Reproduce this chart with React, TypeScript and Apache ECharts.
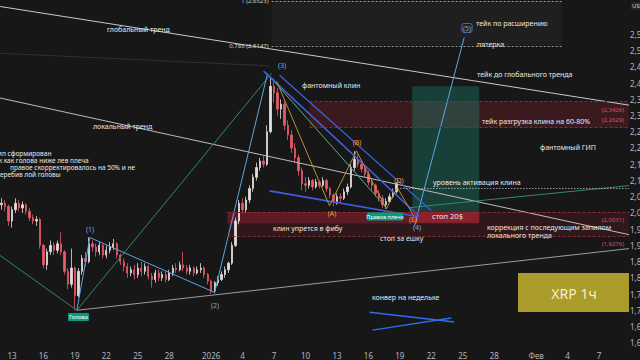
import React, { useEffect, useRef } from "react";
import * as echarts from "echarts";

// ---- axes ----
const xTickDays = [12, 15, 18, 21, 24, 27, 31, 34, 37, 40, 43, 46, 49, 52, 55, 58, 62, 65, 68];
const xTickLabels = ["13", "16", "19", "22", "25", "28", "2026", "4", "7", "10", "13", "16", "19", "22", "25", "28", "Фев", "4", "7"];
const yTickValues = [1.6, 1.65, 1.7, 1.75, 1.8, 1.85, 1.9, 1.95, 2.0, 2.05, 2.1, 2.15, 2.2, 2.25, 2.3, 2.35, 2.4, 2.45, 2.5, 2.55];

// ---- candles (8h), days counted from 1 Dec 2025 ----
const firstCandleDay = 11;
const candleStepDays = 1 / 3;
// [open, close, low, high]
const ohlc = [
  [2.025, 2.03, 2.01, 2.045], [2.03, 2.02, 2.005, 2.04], [2.02, 1.975, 1.96, 2.025], [1.975, 2.01, 1.955, 2.02],
  [2.01, 2.03, 2.0, 2.045], [2.03, 2.015, 2.005, 2.04], [2.015, 2.025, 2.0, 2.035], [2.025, 2.005, 1.995, 2.03],
  [2.005, 1.985, 1.975, 2.015], [1.985, 1.975, 1.965, 1.995], [1.975, 1.98, 1.96, 1.99], [1.98, 1.9, 1.89, 1.985],
  [1.9, 1.84, 1.83, 1.905], [1.84, 1.88, 1.825, 1.89], [1.88, 1.9, 1.87, 1.915], [1.9, 1.885, 1.87, 1.91],
  [1.885, 1.905, 1.875, 1.915], [1.905, 1.88, 1.87, 1.94], [1.88, 1.82, 1.81, 1.885], [1.82, 1.78, 1.765, 1.83],
  [1.78, 1.83, 1.77, 1.89], [1.83, 1.745, 1.7, 1.835], [1.745, 1.82, 1.74, 1.83], [1.82, 1.86, 1.81, 1.87],
  [1.86, 1.85, 1.835, 1.88], [1.85, 1.905, 1.845, 1.925], [1.905, 1.895, 1.88, 1.915], [1.895, 1.88, 1.865, 1.905],
  [1.88, 1.9, 1.87, 1.91], [1.9, 1.87, 1.86, 1.905], [1.87, 1.885, 1.86, 1.9], [1.885, 1.895, 1.875, 1.91],
  [1.895, 1.905, 1.885, 1.92], [1.905, 1.87, 1.86, 1.91], [1.87, 1.85, 1.84, 1.875], [1.85, 1.835, 1.82, 1.86],
  [1.835, 1.815, 1.8, 1.845], [1.815, 1.825, 1.805, 1.835], [1.825, 1.81, 1.795, 1.84], [1.81, 1.83, 1.8, 1.845],
  [1.83, 1.82, 1.805, 1.85], [1.82, 1.835, 1.81, 1.845], [1.835, 1.805, 1.795, 1.84], [1.805, 1.795, 1.77, 1.815],
  [1.795, 1.815, 1.785, 1.825], [1.815, 1.8, 1.79, 1.825], [1.8, 1.81, 1.79, 1.82], [1.81, 1.795, 1.785, 1.82],
  [1.795, 1.815, 1.79, 1.825], [1.815, 1.83, 1.805, 1.84], [1.83, 1.825, 1.815, 1.845], [1.825, 1.84, 1.82, 1.85],
  [1.84, 1.83, 1.82, 1.88], [1.83, 1.82, 1.81, 1.84], [1.82, 1.83, 1.81, 1.84], [1.83, 1.815, 1.805, 1.835],
  [1.815, 1.825, 1.81, 1.835], [1.825, 1.83, 1.815, 1.845], [1.83, 1.81, 1.8, 1.835], [1.81, 1.79, 1.78, 1.815],
  [1.79, 1.76, 1.75, 1.795], [1.76, 1.785, 1.752, 1.79], [1.785, 1.795, 1.775, 1.805], [1.795, 1.81, 1.79, 1.82],
  [1.81, 1.825, 1.8, 1.835], [1.825, 1.845, 1.815, 1.85], [1.845, 1.9, 1.84, 1.91], [1.9, 1.975, 1.895, 1.985],
  [1.975, 2.03, 1.965, 2.04], [2.03, 2.01, 2.0, 2.045], [2.01, 2.04, 2.0, 2.05], [2.04, 2.075, 2.03, 2.085],
  [2.075, 2.11, 2.065, 2.12], [2.11, 2.14, 2.1, 2.155], [2.14, 2.16, 2.13, 2.17], [2.16, 2.15, 2.14, 2.175],
  [2.15, 2.25, 2.145, 2.27], [2.25, 2.39, 2.245, 2.42], [2.39, 2.37, 2.34, 2.415], [2.37, 2.32, 2.3, 2.385],
  [2.32, 2.335, 2.29, 2.35], [2.335, 2.27, 2.255, 2.345], [2.27, 2.24, 2.225, 2.285], [2.24, 2.2, 2.185, 2.255],
  [2.2, 2.17, 2.155, 2.215], [2.17, 2.13, 2.115, 2.18], [2.13, 2.09, 2.07, 2.14], [2.09, 2.085, 2.065, 2.11],
  [2.085, 2.1, 2.075, 2.11], [2.1, 2.08, 2.07, 2.105], [2.08, 2.095, 2.075, 2.105], [2.095, 2.085, 2.075, 2.1],
  [2.085, 2.1, 2.08, 2.11], [2.1, 2.075, 2.065, 2.105], [2.075, 2.055, 2.045, 2.08], [2.055, 2.035, 2.02, 2.06],
  [2.035, 2.05, 2.025, 2.06], [2.05, 2.045, 2.03, 2.06], [2.045, 2.065, 2.04, 2.075], [2.065, 2.08, 2.055, 2.09],
  [2.08, 2.14, 2.075, 2.15], [2.14, 2.165, 2.13, 2.19], [2.165, 2.15, 2.14, 2.18], [2.15, 2.135, 2.125, 2.16],
  [2.135, 2.12, 2.11, 2.145], [2.12, 2.095, 2.085, 2.13], [2.095, 2.085, 2.07, 2.105], [2.085, 2.06, 2.05, 2.09],
  [2.06, 2.045, 2.035, 2.07], [2.045, 2.025, 2.015, 2.055], [2.025, 2.035, 2.013, 2.045], [2.035, 2.05, 2.03, 2.06],
  [2.05, 2.065, 2.045, 2.075], [2.065, 2.09, 2.06, 2.095],
];

// ---- drawings (day, price) ----
const globalTrend = [[10.86, 2.636], [70.86, 2.332]];
const localTrend = [[10.86, 2.354], [70.86, 1.933]];
const faintTop = [[10.86, 2.492], [36.57, 2.453]];
const impulseWaves = [[18.19, 1.7], [19.43, 1.924], [31.33, 1.755], [36.38, 2.43]];
const wave4to5 = [[50.38, 1.958], [55.14, 2.541]];
const headBaseline = [[18.19, 1.7], [70.86, 1.89]];
const greenIntoHead = [[10.86, 1.869], [18.19, 1.7]];
const greenHeadToTop = [[18.19, 1.7], [36.76, 2.43]];
const greenTopToC = [[36.57, 2.421], [47.71, 2.016]];
const tealRight = [[49.9, 2.016], [70.86, 2.084]];
const wedgeUpperA = [[36.0, 2.437], [50.86, 1.989]];
const wedgeUpperB = [[37.52, 2.424], [52.0, 2.007]];
const wedgeLower = [[36.57, 2.068], [50.67, 1.989]];
const abcdeWaves = [[37.24, 2.406], [42.29, 2.022], [44.86, 2.191], [47.71, 2.013], [48.76, 2.078], [50.29, 1.992]];
const weeklyUpper = [[46.1, 1.694], [54.19, 1.664]];
const weeklyLower = [[46.38, 1.639], [53.9, 1.676]];

const activationLevel = 2.075;
const activationStart = 48.76;
const fibLevels = [2.6523, 2.5147];
const fibNames = ["1", "0,786"];
const fibSpan = [36.76, 64.48];
const takeZone = [2.2629, 2.3426];
const takeStart = 40.38;
const stopZone = [1.9276, 2.0031];
const stopStart = 32.57;
const stopStripLow = 1.967;
const longSpan = [50.19, 56.57];
const longEntry = 2.007;
const longTarget = 2.39;
const longStop = 1.97;
const priceTags = [2.39, 2.09, 2.062, 2.007, 1.983];

const xMin = 10.857;
const xMax = 70.857;
const yMin = 1.593;
const yMax = 2.656;

const fmt = (v: number) => v.toFixed(4).replace(".", ",");
const FONT = "'Noto Sans', sans-serif";

const seg = (data: number[][], color: string, width = 1, type: any = "solid", z = 4) => ({
  type: "line",
  data,
  symbol: "none",
  silent: true,
  z,
  lineStyle: { color, width, type },
  emphasis: { disabled: true },
});

const txt = (x: number, y: number, text: string, extra: any = {}) => ({
  type: "text",
  x,
  y,
  silent: true,
  z: 50,
  style: {
    text,
    fill: "#e8e8e8",
    fontSize: 7,
    fontFamily: FONT,
    verticalAlign: "middle",
    align: "left",
    ...extra,
  },
});

export default function App() {
  const ref = useRef<HTMLDivElement>(null);

  useEffect(() => {
    document.body.style.margin = "0";
    const chart = echarts.init(ref.current!, undefined, { renderer: "svg" });

    const tagBg = ["#089981", "#f2f2f2", "#f23645", "#787b86", "#f23645"];
    const tagFg = ["#ffffff", "#111111", "#ffffff", "#ffffff", "#ffffff"];
    const redLbl = { color: "#d9525e", fontSize: 6, fontFamily: FONT };

    const option: any = {
      animation: false,
      backgroundColor: "#171717",
      grid: { left: 0, right: 11, top: 0, bottom: 15, containLabel: false, outerBoundsMode: "none" },
      xAxis: {
        type: "value",
        min: xMin,
        max: xMax,
        axisLine: { show: false },
        axisTick: { show: false },
        splitLine: { show: false },
        axisLabel: {
          customValues: xTickDays,
          formatter: (v: number) => {
            const i = xTickDays.indexOf(Math.round(v));
            return i >= 0 ? xTickLabels[i] : "";
          },
          color: "#b2b5be",
          fontSize: 8,
          fontFamily: FONT,
          margin: 6,
        },
      },
      yAxis: {
        type: "value",
        position: "right",
        min: yMin,
        max: yMax,
        axisLine: { show: false },
        axisTick: { show: false },
        splitLine: { show: false },
        axisLabel: {
          customValues: yTickValues,
          formatter: (v: number) => fmt(v),
          color: "#b2b5be",
          fontSize: 8,
          fontFamily: FONT,
          margin: 1,
        },
      },
      series: [
        // zones
        {
          type: "line",
          data: [],
          silent: true,
          z: 1,
          markArea: {
            silent: true,
            label: { show: false },
            data: [
              [{ coord: [fibSpan[0], fibLevels[1]], itemStyle: { color: "rgba(255,255,255,0.035)" } }, { coord: [fibSpan[1], fibLevels[0]] }],
              [{ coord: [takeStart, takeZone[0]], itemStyle: { color: "rgba(150,35,50,0.28)" } }, { coord: [xMax, takeZone[1]] }],
              [{ coord: [stopStart, stopZone[0]], itemStyle: { color: "rgba(130,30,45,0.22)" } }, { coord: [xMax, stopZone[1]] }],
              [{ coord: [stopStart, stopStripLow], itemStyle: { color: "rgba(150,30,50,0.45)" } }, { coord: [longSpan[1], stopZone[1]] }],
              [{ coord: [longSpan[0], longEntry], itemStyle: { color: "rgba(30,150,125,0.33)" } }, { coord: [longSpan[1], longTarget] }],
              [{ coord: [longSpan[0], longStop], itemStyle: { color: "rgba(242,54,69,0.3)" } }, { coord: [longSpan[1], longEntry] }],
            ],
          },
          markLine: {
            silent: true,
            symbol: "none",
            data: [
              ...fibLevels.map((v, i) => [
                {
                  coord: [fibSpan[0], v],
                  lineStyle: { color: "#9a9a9a", width: 1, type: [2, 2] },
                  label: {
                    show: true,
                    position: "start",
                    distance: 3,
                    formatter: `${fibNames[i]} (${fmt(v)})`,
                    color: "#d0d0d0",
                    fontSize: 6,
                    fontFamily: FONT,
                    padding: i === 0 ? [8, 0, 0, 0] : 0,
                  },
                },
                { coord: [fibSpan[1], v] },
              ]),
              [
                { coord: [takeStart, takeZone[1]], lineStyle: { color: "#8a2a36", width: 1, type: [3, 2] }, label: { show: true, position: "insideEndBottom", formatter: `(${fmt(takeZone[1])})`, ...redLbl } },
                { coord: [xMax, takeZone[1]] },
              ],
              [
                { coord: [takeStart, takeZone[0]], lineStyle: { color: "#8a2a36", width: 1, type: [3, 2] }, label: { show: true, position: "insideEndTop", formatter: `(${fmt(takeZone[0])})`, ...redLbl } },
                { coord: [xMax, takeZone[0]] },
              ],
              [
                { coord: [stopStart, stopZone[1]], lineStyle: { color: "#8a2a36", width: 1, type: [3, 2] }, label: { show: true, position: "insideEndBottom", formatter: `(${fmt(stopZone[1])})`, ...redLbl } },
                { coord: [xMax, stopZone[1]] },
              ],
              [
                { coord: [stopStart, stopZone[0]], lineStyle: { color: "#8a2a36", width: 1, type: [3, 2] }, label: { show: true, position: "insideEndBottom", formatter: `(${fmt(stopZone[0])})`, ...redLbl } },
                { coord: [xMax, stopZone[0]] },
              ],
              [
                { coord: [activationStart, activationLevel], lineStyle: { color: "#d8d8d8", width: 1, type: [1, 2] }, label: { show: false } },
                { coord: [xMax, activationLevel] },
              ],
            ],
          },
        },
        // candles
        {
          type: "candlestick",
          z: 3,
          barWidth: 1.8,
          silent: true,
          encode: { x: 0, y: [1, 2, 3, 4] },
          data: ohlc.map((c, k) => [firstCandleDay + k * candleStepDays, c[0], c[1], c[2], c[3]]),
          itemStyle: {
            color: "#e4dede",
            color0: "#e8596a",
            borderColor: "#e4dede",
            borderColor0: "#e8596a",
            borderWidth: 0.8,
          },
        },
        // drawings
        seg(faintTop, "rgba(70,110,110,0.35)", 1),
        seg(globalTrend, "#c9c9c9", 1),
        seg(localTrend, "#bdbdbd", 1),
        seg(headBaseline, "#9c9c9c", 1),
        seg(greenIntoHead, "#2f8a6c", 1),
        seg(greenHeadToTop, "#2f8a6c", 1),
        seg(greenTopToC, "#5fae85", 1),
        seg(tealRight, "#2f8a74", 1),
        seg(impulseWaves, "#5aa6e6", 1),
        seg(wave4to5, "#5aa6e6", 1),
        seg(wedgeUpperA, "#3f5fe0", 1.6),
        seg(wedgeUpperB, "#3f5fe0", 1.3),
        seg(wedgeLower, "#3f5fe0", 1.6),
        seg(abcdeWaves, "#b58f3a", 1),
        seg(weeklyUpper, "#2f6cf0", 1.4),
        seg(weeklyLower, "#2f6cf0", 1.4),
        // price tags on the axis
        {
          type: "line",
          data: [],
          silent: true,
          z: 6,
          markLine: {
            silent: true,
            symbol: "none",
            lineStyle: { opacity: 0 },
            data: priceTags.map((v, i) => ({
              yAxis: v,
              label: {
                show: true,
                position: "end",
                distance: 0,
                formatter: fmt(v),
                backgroundColor: tagBg[i],
                color: tagFg[i],
                fontSize: 7,
                fontFamily: FONT,
                padding: [1, 2],
              },
            })),
          },
        },
      ],
      graphic: [
        txt(107, 29, "глобальный тренд"),
        txt(93, 126, "локальный тренд"),
        txt(-5, 153, "гип сформирован", { fontSize: 6.5 }),
        txt(-8, 160, "так как голова ниже лев плеча", { fontSize: 6.5 }),
        txt(10, 167, "правое скорректировалось на 50% и не", { fontSize: 6.5 }),
        txt(-4, 174, "перебив лой головы", { fontSize: 6.5 }),
        txt(302, 85, "фантомный клин"),
        txt(476, 23, "тейк по расширению"),
        txt(477, 44, "пятерка"),
        txt(477, 74, "тейк до глобального тренда"),
        txt(482, 121, "тейк разгрузка клина на 60-80%"),
        txt(540, 147, "фантомный ГИП"),
        txt(433, 182, "уровень активация клина"),
        txt(432, 216, "стоп 20$", { fontSize: 7.5 }),
        txt(487, 227, "коррекция с последующим запилом"),
        txt(487, 235, "локального тренда"),
        txt(380, 238, "стоп за ешку"),
        txt(273, 228, "клин упрется в фибу"),
        txt(372, 297, "конвер на недельке"),
        // wave labels
        txt(90, 229, "(1)", { fill: "#7aa7e0", align: "center" }),
        txt(215, 305, "(2)", { fill: "#7aa7e0", align: "center" }),
        txt(282, 65, "(3)", { fill: "#7aa7e0", align: "center" }),
        txt(417, 227, "(4)", { fill: "#7aa7e0", align: "center" }),
        txt(467, 28, "(5)", { fill: "#7aa7e0", align: "center", borderColor: "#4f7fc4", borderWidth: 0.8, borderRadius: 2, padding: [1, 1] }),
        txt(332, 213, "(A)", { fill: "#f0a030", align: "center" }),
        txt(357, 142, "(B)", { fill: "#f0a030", align: "center" }),
        txt(399, 180, "(D)", { fill: "#f0a030", align: "center" }),
        txt(413, 219, "(E)", { fill: "#f0a030", align: "center" }),
        // badges
        {
          type: "rect",
          silent: true,
          z: 49,
          shape: { x: 68, y: 313, width: 21, height: 8, r: 1 },
          style: { fill: "#089981" },
        },
        txt(78.5, 317, "Голова", { fontSize: 5.5, fill: "#ffffff", align: "center" }),
        {
          type: "rect",
          silent: true,
          z: 49,
          shape: { x: 367, y: 212.5, width: 36, height: 8, r: 1 },
          style: { fill: "#089981" },
        },
        txt(385, 216.5, "Правое плечо", { fontSize: 5.5, fill: "#ffffff", align: "center" }),
        {
          type: "rect",
          silent: true,
          z: 49,
          shape: { x: 518, y: 273, width: 111, height: 39 },
          style: { fill: "#aa9b2b" },
        },
        txt(574, 293, "XRP 1ч", { fontSize: 14, fill: "#f6f0c6", align: "center" }),
        txt(631, 6, "USD", { fontSize: 6, fill: "#d0d0d0", backgroundColor: "#262626", padding: [1, 1] }),
      ],
    };

    chart.setOption(option);
    return () => chart.dispose();
  }, []);

  return <div ref={ref} style={{ position: "fixed", left: 0, top: 0, width: 640, height: 360 }} />;
}
